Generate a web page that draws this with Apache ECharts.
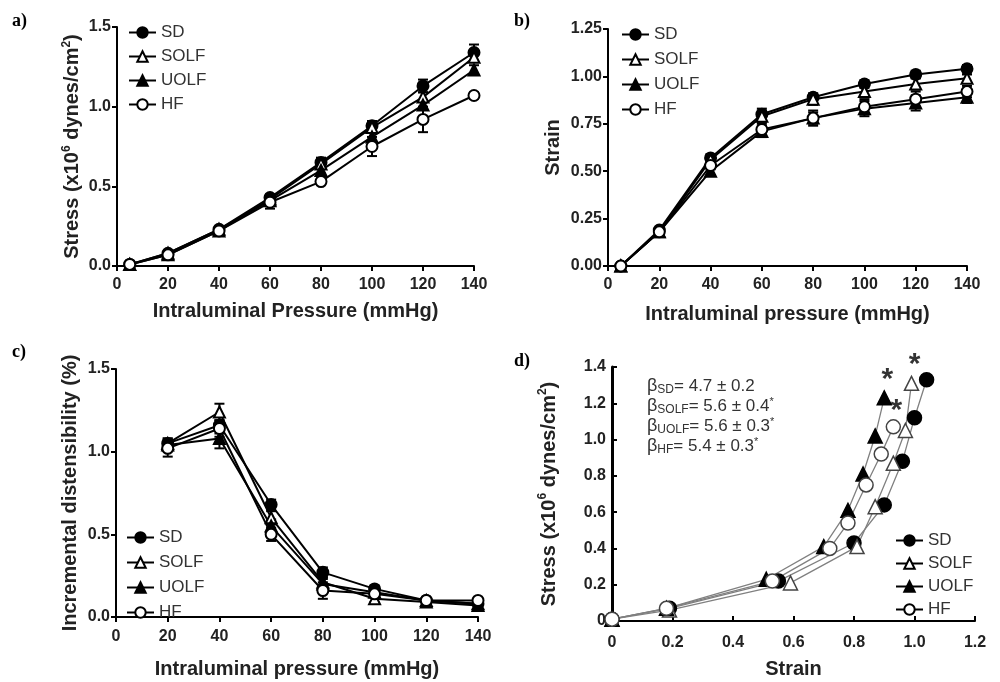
<!DOCTYPE html>
<html>
<head>
<meta charset="utf-8">
<script src="https://cdn.jsdelivr.net/npm/echarts@6/dist/echarts.min.js"></script>
<style>
  html, body { margin: 0; padding: 0; background: #fff; }
  #chart { width: 1000px; height: 682px; }
</style>
</head>
<body>
<div id="chart"></div>
<script>
// groups
var groups = ['SD', 'SOLF', 'UOLF', 'HF'];

// x values (mmHg)
var pressure = [5, 20, 40, 60, 80, 100, 120, 140];
var pressureC = [20, 40, 60, 80, 100, 120, 140];

// a) stress (x10^6 dynes/cm2)
var stressSD   = [0.01, 0.08, 0.23, 0.43, 0.65, 0.88, 1.13, 1.34];
var stressSOLF = [0.01, 0.07, 0.22, 0.42, 0.64, 0.87, 1.06, 1.31];
var stressUOLF = [0.01, 0.08, 0.23, 0.41, 0.60, 0.81, 1.01, 1.23];
var stressHF   = [0.01, 0.07, 0.22, 0.40, 0.53, 0.75, 0.92, 1.07];
var stressErrSD   = [0.01, 0.01, 0.01, 0.02, 0.03, 0.03, 0.04, 0.05];
var stressErrSOLF = [0.01, 0.01, 0.01, 0.02, 0.03, 0.03, 0.03, 0.03];
var stressErrUOLF = [0.01, 0.01, 0.01, 0.02, 0.02, 0.03, 0.03, 0.03];
var stressErrHF   = [0.01, 0.01, 0.01, 0.04, 0.02, 0.06, 0.08, 0.02];

// b) strain
var strainSD   = [0, 0.19, 0.57, 0.80, 0.89, 0.96, 1.01, 1.04];
var strainSOLF = [0, 0.18, 0.56, 0.79, 0.88, 0.92, 0.96, 0.99];
var strainUOLF = [0, 0.18, 0.50, 0.71, 0.78, 0.83, 0.86, 0.89];
var strainHF   = [0, 0.18, 0.53, 0.72, 0.78, 0.84, 0.88, 0.92];
var strainErrSD   = [0, 0.01, 0.02, 0.03, 0.02, 0.02, 0.02, 0.02];
var strainErrSOLF = [0, 0.01, 0.02, 0.03, 0.03, 0.03, 0.03, 0.02];
var strainErrUOLF = [0, 0.01, 0.02, 0.03, 0.04, 0.04, 0.04, 0.03];
var strainErrHF   = [0, 0.01, 0.02, 0.03, 0.03, 0.04, 0.04, 0.03];

// c) incremental distensibility (%)
var distSD   = [1.05, 1.16, 0.68, 0.27, 0.17, 0.10, 0.08];
var distSOLF = [1.05, 1.24, 0.60, 0.21, 0.11, 0.09, 0.07];
var distUOLF = [1.04, 1.08, 0.55, 0.20, 0.15, 0.10, 0.08];
var distHF   = [1.02, 1.14, 0.50, 0.16, 0.14, 0.10, 0.10];
var distErrSD   = [0.03, 0.05, 0.03, 0.03, 0.02, 0.01, 0.01];
var distErrSOLF = [0.03, 0.05, 0.04, 0.03, 0.02, 0.01, 0.01];
var distErrUOLF = [0.03, 0.06, 0.04, 0.03, 0.02, 0.01, 0.01];
var distErrHF   = [0.05, 0.05, 0.04, 0.05, 0.02, 0.01, 0.01];

// d) stress vs strain
var dStrainSD   = [0, 0.19, 0.55, 0.80, 0.90, 0.96, 1.00, 1.04];
var dStressSD   = [0.01, 0.07, 0.22, 0.43, 0.64, 0.88, 1.12, 1.33];
var dStrainSOLF = [0, 0.19, 0.59, 0.81, 0.87, 0.93, 0.97, 0.99];
var dStressSOLF = [0.01, 0.06, 0.21, 0.41, 0.63, 0.87, 1.05, 1.31];
var dStrainUOLF = [0, 0.18, 0.51, 0.70, 0.78, 0.83, 0.87, 0.90];
var dStressUOLF = [0.01, 0.07, 0.23, 0.41, 0.61, 0.81, 1.02, 1.23];
var dStrainHF   = [0, 0.18, 0.53, 0.72, 0.78, 0.84, 0.89, 0.93];
var dStressHF   = [0.01, 0.07, 0.22, 0.40, 0.54, 0.75, 0.92, 1.07];
var asteriskPts = [[0.91, 1.33], [1.00, 1.41], [0.94, 1.16]];
var betaNames  = ['SD', 'SOLF', 'UOLF', 'HF'];
var betaValues = ['4.7 ± 0.2', '5.6 ± 0.4', '5.6 ± 0.3', '5.4 ± 0.3'];
var betaStar   = ['', '*', '*', '*'];

var symbolOf = { SD: 'circle', SOLF: 'triangle', UOLF: 'triangle', HF: 'circle' };
var filledOf = { SD: true, SOLF: false, UOLF: true, HF: false };

var FONT = 'Arial, "Liberation Sans", sans-serif';

function zip(xs, ys, es) {
    return xs.map(function (x, i) {
        return es ? [x, ys[i], es[i]] : [x, ys[i]];
    });
}

function lineSeries(name, data, gi, lineColor, size) {
    var isD = gi === 3;
    return {
        type: 'line', name: name, data: data,
        xAxisIndex: gi, yAxisIndex: gi,
        symbol: symbolOf[name], symbolSize: size,
        showAllSymbol: true, animation: false, z: 3,
        lineStyle: { color: lineColor, width: isD ? 1.3 : 2 },
        itemStyle: {
            color: filledOf[name] ? '#000' : '#fff',
            borderColor: (isD && !filledOf[name]) ? '#444' : '#000',
            borderWidth: isD ? 1.5 : 2
        }
    };
}

function errSeries(name, data, gi) {
    return {
        type: 'custom', name: name + ' err', data: data,
        xAxisIndex: gi, yAxisIndex: gi, z: 2, animation: false,
        renderItem: function (params, api) {
            var x = api.value(0), y = api.value(1), e = api.value(2);
            if (!e) return;
            var top = api.coord([x, y + e]);
            var bot = api.coord([x, y - e]);
            var w = 5;
            var st = { stroke: '#000', lineWidth: 2 };
            return {
                type: 'group',
                children: [
                    { type: 'line', shape: { x1: top[0], y1: top[1], x2: bot[0], y2: bot[1] }, style: st },
                    { type: 'line', shape: { x1: top[0] - w, y1: top[1], x2: top[0] + w, y2: top[1] }, style: st },
                    { type: 'line', shape: { x1: bot[0] - w, y1: bot[1], x2: bot[0] + w, y2: bot[1] }, style: st }
                ]
            };
        }
    };
}

var nameStyle = {
    fontFamily: FONT, fontWeight: 'bold', fontSize: 20, color: '#222', lineHeight: 24,
    rich: {
        sup: { fontFamily: FONT, fontWeight: 'bold', fontSize: 12, lineHeight: 12, verticalAlign: 'top', color: '#222' }
    }
};

function xAxisOf(gi, name, min, max, interval, gap, margin, fmt, inside) {
    return {
        type: 'value', gridIndex: gi, min: min, max: max, interval: interval,
        name: name, nameLocation: 'middle', nameGap: gap,
        nameTextStyle: nameStyle,
        axisLine: { show: true, onZero: false, lineStyle: { color: '#000', width: 2 } },
        axisTick: { show: true, inside: !!inside, length: 5, lineStyle: { color: '#000', width: 2 } },
        axisLabel: { fontFamily: FONT, fontWeight: 'bold', fontSize: 16, color: '#222', margin: margin, formatter: fmt },
        splitLine: { show: false }
    };
}

function yAxisOf(gi, name, min, max, interval, gap, fmt, inside, lw) {
    return {
        type: 'value', gridIndex: gi, min: min, max: max, interval: interval,
        name: name, nameLocation: 'middle', nameGap: gap,
        nameTextStyle: nameStyle,
        axisLine: { show: true, onZero: false, lineStyle: { color: '#000', width: lw || 2 } },
        axisTick: { show: true, inside: !!inside, length: 5, lineStyle: { color: '#000', width: 2 } },
        axisLabel: { fontFamily: FONT, fontWeight: 'bold', fontSize: 16, color: '#222', margin: 6, formatter: fmt },
        splitLine: { show: false }
    };
}

function legendOf(left, top, gap) {
    return {
        orient: 'vertical', left: left, top: top, itemGap: gap, padding: 0,
        itemWidth: 27, itemHeight: 13, selectedMode: false,
        data: groups,
        textStyle: { fontFamily: FONT, fontSize: 17, color: '#333' }
    };
}

var fix1 = function (v) { return v.toFixed(1); };
var fix2 = function (v) { return v.toFixed(2); };
var fixD = function (v) { return v === 0 ? '0' : v.toFixed(1); };

var stressA = { SD: stressSD, SOLF: stressSOLF, UOLF: stressUOLF, HF: stressHF };
var stressE = { SD: stressErrSD, SOLF: stressErrSOLF, UOLF: stressErrUOLF, HF: stressErrHF };
var strainB = { SD: strainSD, SOLF: strainSOLF, UOLF: strainUOLF, HF: strainHF };
var strainE = { SD: strainErrSD, SOLF: strainErrSOLF, UOLF: strainErrUOLF, HF: strainErrHF };
var distC = { SD: distSD, SOLF: distSOLF, UOLF: distUOLF, HF: distHF };
var distE = { SD: distErrSD, SOLF: distErrSOLF, UOLF: distErrUOLF, HF: distErrHF };
var dX = { SD: dStrainSD, SOLF: dStrainSOLF, UOLF: dStrainUOLF, HF: dStrainHF };
var dY = { SD: dStressSD, SOLF: dStressSOLF, UOLF: dStressUOLF, HF: dStressHF };

var series = [];
groups.forEach(function (g) {
    series.push(errSeries(g, zip(pressure, stressA[g], stressE[g]), 0));
    series.push(lineSeries(g, zip(pressure, stressA[g]), 0, '#000', 11));
    series.push(errSeries(g, zip(pressure, strainB[g], strainE[g]), 1));
    series.push(lineSeries(g, zip(pressure, strainB[g]), 1, '#000', 11));
    series.push(errSeries(g, zip(pressureC, distC[g], distE[g]), 2));
    series.push(lineSeries(g, zip(pressureC, distC[g]), 2, '#000', 11));
});
groups.forEach(function (g) {
    series.push(lineSeries(g, zip(dX[g], dY[g]), 3, '#808080', 14));
});
series.push({
    type: 'scatter', name: 'sig', xAxisIndex: 3, yAxisIndex: 3,
    data: asteriskPts, symbolSize: 1, itemStyle: { color: 'transparent' },
    silent: true, animation: false, clip: false, z: 5,
    label: { show: true, position: 'inside', formatter: '*', fontFamily: FONT,
             fontSize: 30, fontWeight: 'bold', color: '#000' }
});

var betaText = betaNames.map(function (n, i) {
    return '{b|β}{s|' + n + '}{t|= ' + betaValues[i] + '}' + (betaStar[i] ? '{p|' + betaStar[i] + '}' : '');
}).join('\n');

var yStress = 'Stress (x10{sup|6} dynes/cm{sup|2})';

var myChart = echarts.init(document.getElementById('chart'));
myChart.setOption({
    animation: false,
    grid: [
        { left: 117, top: 27, width: 357, height: 239 },
        { left: 608, top: 29, width: 359, height: 237 },
        { left: 116, top: 369, width: 362, height: 256 },
        { left: 612, top: 367, width: 363, height: 256 }
    ],
    xAxis: [
        xAxisOf(0, 'Intraluminal Pressure (mmHg)', 0, 140, 20, 33, 11),
        xAxisOf(1, 'Intraluminal pressure (mmHg)', 0, 140, 20, 36, 11),
        xAxisOf(2, 'Intraluminal pressure (mmHg)', 0, 140, 20, 40, 12),
        xAxisOf(3, 'Strain', 0, 1.2, 0.2, 36, 14, fixD, true)
    ],
    yAxis: [
        yAxisOf(0, yStress, 0, 1.5, 0.5, 24, fix1),
        yAxisOf(1, 'Strain', 0, 1.25, 0.25, 43, fix2),
        yAxisOf(2, 'Incremental distensibility (%)', 0, 1.5, 0.5, 34, fix1),
        yAxisOf(3, yStress, 0, 1.4, 0.2, 51, fixD, true, 3)
    ],
    legend: [
        legendOf(128, 24, 7),
        legendOf(621, 26, 8),
        legendOf(126, 529, 8),
        legendOf(895, 532, 6)
    ],
    graphic: [
        { type: 'text', left: 12, top: 12, style: { text: 'a)', font: 'bold 18px "Liberation Serif", serif', fill: '#000' } },
        { type: 'text', left: 514, top: 12, style: { text: 'b)', font: 'bold 18px "Liberation Serif", serif', fill: '#000' } },
        { type: 'text', left: 12, top: 343, style: { text: 'c)', font: 'bold 18px "Liberation Serif", serif', fill: '#000' } },
        { type: 'text', left: 514, top: 352, style: { text: 'd)', font: 'bold 18px "Liberation Serif", serif', fill: '#000' } },
        {
            type: 'text', left: 647, top: 377,
            style: {
                text: betaText,
                fill: '#333',
                rich: {
                    b: { fontFamily: FONT, fontSize: 18, lineHeight: 20, fill: '#333' },
                    s: { fontFamily: FONT, fontSize: 12, lineHeight: 12, verticalAlign: 'bottom', fill: '#333' },
                    t: { fontFamily: FONT, fontSize: 17, lineHeight: 20, fill: '#333' },
                    p: { fontFamily: FONT, fontSize: 11, lineHeight: 11, verticalAlign: 'top', fill: '#333' }
                }
            }
        }
    ],
    series: series
});
</script>
</body>
</html>
